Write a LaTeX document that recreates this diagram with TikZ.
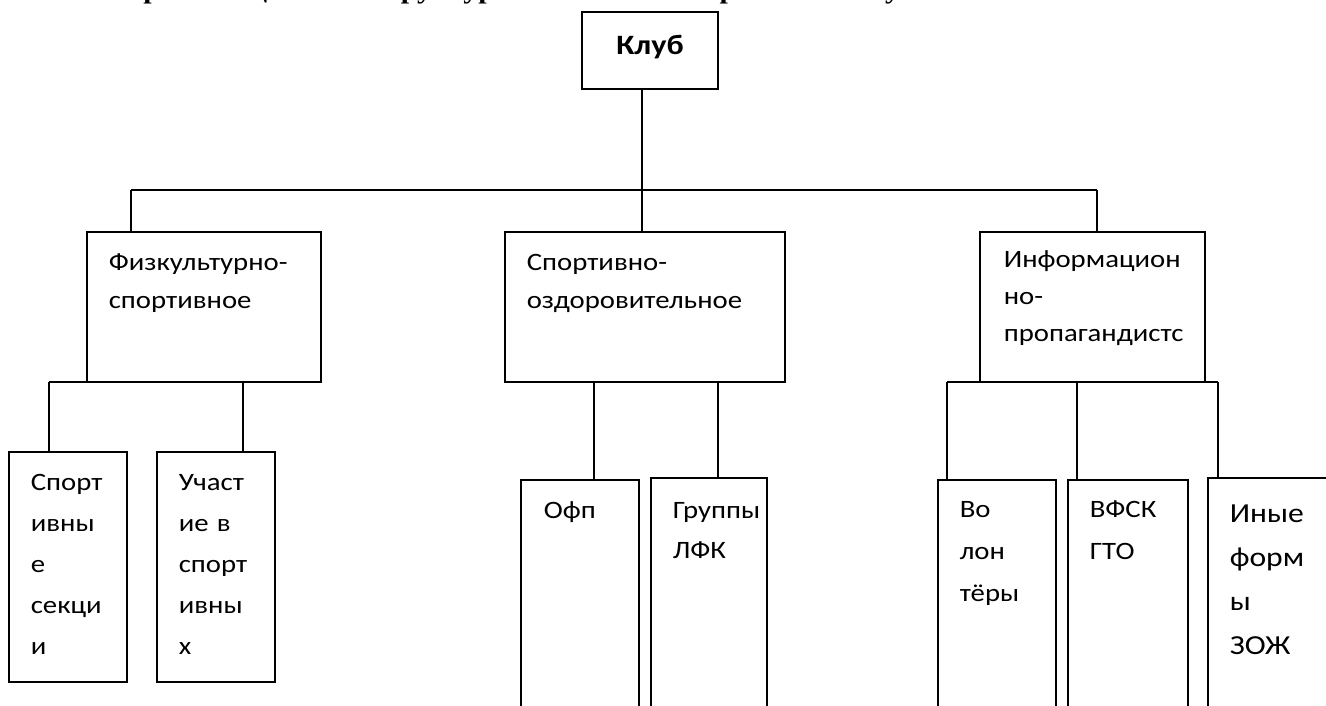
\documentclass[tikz,border=0pt]{standalone}
\usepackage{fontspec}
\setmainfont{Carlito}[FakeStretch=1.15]
\newfontfamily\titlefont{Liberation Serif}[FakeStretch=1.15]
\begin{document}
\begin{tikzpicture}[x=1pt,y=-1pt,line width=1.6pt,
  box/.style={draw,line width=1.6pt,anchor=north west,inner sep=0pt,outer sep=0pt},
  lbl/.style={anchor=base west,inner sep=0pt,align=left,text width=220pt,font=\fontsize{25}{#1}\selectfont},
  lbl/.default=38]
\useasboundingbox (0,0) rectangle (1326,706);
\clip (0,0) rectangle (1326,706);
% title (cut off at top)
\node[anchor=base,inner sep=0pt,font=\titlefont\bfseries\fontsize{26}{26}\selectfont] (title) at (525,-1) {Организационная структура школьного спортивного клуба};
% boxes
\node[box,minimum width=136pt,minimum height=77pt] (klub) at (582,12) {};
\node[anchor=base,inner sep=0pt,font=\bfseries\fontsize{28}{28}\selectfont] (tklub) at (650,55) {Клуб};
\node[box,minimum width=234pt,minimum height=150pt] (fiz) at (87,232) {};
\node[box,minimum width=280pt,minimum height=150pt] (sport) at (505,232) {};
\node[box,minimum width=225pt,minimum height=150pt] (info) at (980,232) {};
\node[box,minimum width=118pt,minimum height=230pt] (sek) at (9,452) {};
\node[box,minimum width=118pt,minimum height=230pt] (uch) at (157,452) {};
\node[box,minimum width=118pt,minimum height=240pt] (ofp) at (521,480) {};
\node[box,minimum width=116pt,minimum height=242pt] (lfk) at (651,478) {};
\node[box,minimum width=118pt,minimum height=240pt] (vol) at (938,480) {};
\node[box,minimum width=120pt,minimum height=240pt] (gto) at (1068,480) {};
\node[box,minimum width=140pt,minimum height=242pt] (zozh) at (1208,478) {};
% texts
\node[lbl] (tfiz) at (108,270) {Физкультурно-\\спортивное};
\node[lbl] (tsport) at (526,270) {Спортивно-\\оздоровительное};
\node[lbl=37] (tinfo) at (1003,267) {Информацион\\но-\\пропагандистс};
\node[lbl=41] (tsek) at (30,490) {Спорт\\ивны\\е\\секци\\и};
\node[lbl=41] (tuch) at (178,490) {Участ\\ие в\\спорт\\ивны\\х};
\node[lbl] (tofp) at (543,518) {Офп};
\node[lbl=40] (tlfk) at (672,518) {Группы\\ЛФК};
\node[lbl=42] (tvol) at (959,517) {Во\\лон\\тёры};
\node[lbl=42] (tgto) at (1089,517) {ВФСК\\ГТО};
\node[lbl,font=\fontsize{27.5}{44}\selectfont] (tzozh) at (1229,522) {Иные\\форм\\ы\\ЗОЖ};
% connectors
\coordinate (busL) at (131,190);
\coordinate (busM) at (642,190);
\coordinate (busR) at (1097,190);
\draw (klub.south -| busM) -- (busM);
\draw (busL) -- (busR);
\draw (busL) -- (busL |- fiz.north);
\draw (busM) -- (busM |- sport.north);
\draw (busR) -- (busR |- info.north);
\coordinate (fa) at (49,382);
\coordinate (fb) at (243,382);
\draw (fa) -- (fiz.south west);
\draw (fa) -- (fa |- sek.north);
\draw (fb) -- (fb |- uch.north);
\coordinate (sa) at (594,382);
\coordinate (sb) at (718,382);
\draw (sa) -- (sa |- ofp.north);
\draw (sb) -- (sb |- lfk.north);
\coordinate (ia) at (947,382);
\coordinate (ib) at (1077,382);
\coordinate (ic) at (1218,382);
\draw (ia) -- (info.south west);
\draw (info.south east) -- (ic);
\draw (ia) -- (ia |- vol.north);
\draw (ib) -- (ib |- gto.north);
\draw (ic) -- (ic |- zozh.north);
\end{tikzpicture}
\end{document}
